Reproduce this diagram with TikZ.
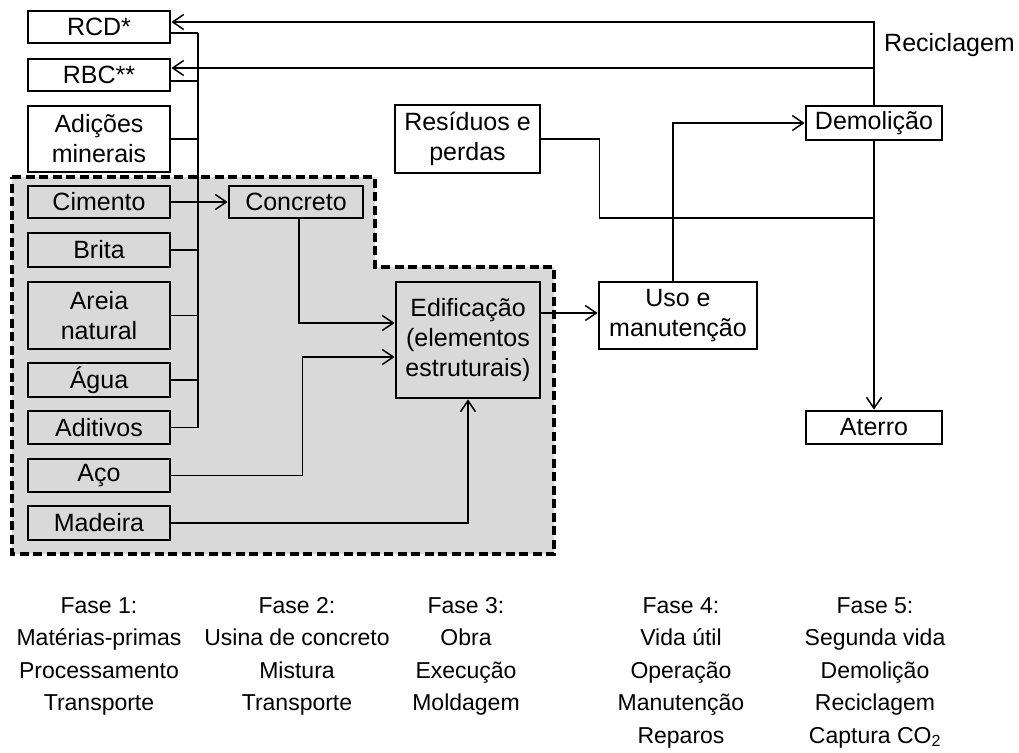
\documentclass[tikz,border=0pt]{standalone}
\usepackage{fontspec}
\setmainfont{Liberation Sans}
\usetikzlibrary{arrows.meta,calc}
\definecolor{bg}{RGB}{217,217,217}
\begin{document}
\begin{tikzpicture}[x=1pt,y=-1pt,
  box/.style={draw,line width=2.8pt,inner sep=0pt,align=center,font=\fontsize{25}{30}\selectfont},
  gbox/.style={box,fill=bg},
  con/.style={line width=1.5pt},
  arr/.style={con,-{Straight Barb[length=11pt,width=15pt]}},
  phase/.style={anchor=north,inner sep=0pt,align=center,font=\fontsize{23}{32.5}\selectfont},
  region/.style={line width=3.4pt,dash pattern=on 9pt off 4.5pt,fill=bg}]
\useasboundingbox (0,0) rectangle (1019,752);
% shaded region
\draw[region] (12,177) -- (375,177) -- (375,267) -- (554,267) -- (554,554) -- (12,554) -- cycle;
% left column
\node[box,minimum width=142pt,minimum height=32pt] (RCD) at (99,27) {RCD*};
\node[box,minimum width=142pt,minimum height=32pt] (RBC) at (99,75) {RBC**};
\node[box,minimum width=142pt,minimum height=66pt] (Adi) at (99,139) {Adições\\minerais};
\node[gbox,minimum width=142pt,minimum height=32pt] (Cim) at (99,202) {Cimento};
\node[gbox,minimum width=142pt,minimum height=34pt] (Bri) at (99,250) {Brita};
\node[gbox,minimum width=142pt,minimum height=67pt] (Are) at (99,315.5) {Areia\\natural};
\node[gbox,minimum width=142pt,minimum height=34pt] (Agu) at (99,380) {Água};
\node[gbox,minimum width=142pt,minimum height=33pt] (Adt) at (99,427.5) {Aditivos};
\node[gbox,minimum width=142pt,minimum height=33pt] (Aco) at (99,475.5) {Aço};
\node[gbox,minimum width=142pt,minimum height=34pt] (Mad) at (99,523) {Madeira};
% middle
\node[gbox,minimum width=134pt,minimum height=32pt] (Con) at (296,202) {Concreto};
\node[gbox,minimum width=144pt,minimum height=116pt] (Edi) at (468,340) {Edificação\\(elementos\\estruturais)};
\node[box,minimum width=145pt,minimum height=68pt] (Res) at (467.5,139) {Resíduos e\\perdas};
\node[box,minimum width=158pt,minimum height=67pt] (Uso) at (678,315.5) {Uso e\\manutenção};
\node[box,minimum width=136pt,minimum height=34pt] (Dem) at (874,123) {Demolição};
\node[box,minimum width=136pt,minimum height=33pt] (Ate) at (874,427.5) {Aterro};
\node[anchor=west,inner sep=0pt,font=\fontsize{25}{30}\selectfont] (Rec) at (884,45) {Reciclagem};
% bus
\coordinate (busTop) at (198,33);
\coordinate (busBot) at (Adt.east -| busTop);
\draw[con] (busTop) -- (busBot);
\draw[con] (RCD.east |- busTop) -- (busTop);
\draw[con] (RBC.east |- 0,81) -- (busTop |- 0,81);
\draw[con] (Adi.east) -- (Adi.east -| busTop);
\draw[con] (Bri.east) -- (Bri.east -| busTop);
\draw[con] (Are.east) -- (Are.east -| busTop);
\draw[con] (Agu.east) -- (Agu.east -| busTop);
\draw[con] (Adt.east) -- (busBot);
\draw[arr] (Cim.east) -- (Con.west);
% into Edificacao
\draw[arr] ($(Con.south)+(3,0)$) |- ($(Edi.west)+(0,-17)$);
\draw[arr] (Aco.east) -- ++(131,0) |- ($(Edi.west)+(0,17)$);
\draw[arr] (Mad.east) -| (Edi.south);
% life cycle
\draw[arr] (Edi.east |- 0,313) -- (Uso.west |- 0,313);
\draw[arr] ($(Uso.north)+(-5,0)$) |- (Dem.west);
\coordinate (j) at (Dem.south |- 0,218);
\draw[con] (Res.east) -- ++(58,0) |- (j);
\draw[arr] (Dem.south) -- (Ate.north);
\draw[arr] (Dem.north) |- (RCD.east |- 0,22);
\draw[arr] (Dem.north |- 0,68) -- (RBC.east |- 0,68);
% phases
\node[phase] (f1) at (99,597) {Fase 1:\\Matérias-primas\\Processamento\\Transporte};
\node[phase] (f2) at (297,597) {Fase 2:\\Usina de concreto\\Mistura\\Transporte};
\node[phase] (f3) at (466,597) {Fase 3:\\Obra\\Execução\\Moldagem};
\node[phase] (f4) at (681,597) {Fase 4:\\Vida útil\\Operação\\Manutenção\\Reparos};
\node[phase] (f5) at (875,597) {Fase 5:\\Segunda vida\\Demolição\\Reciclagem\\Captura CO\textsubscript{2}};
\end{tikzpicture}
\end{document}
